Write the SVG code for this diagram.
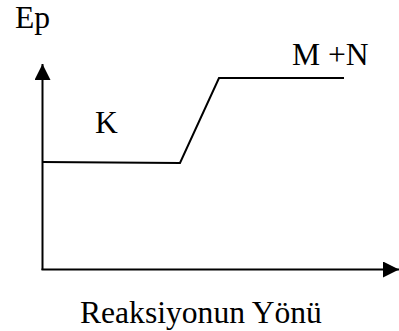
<svg xmlns="http://www.w3.org/2000/svg" width="399" height="331" viewBox="0 0 399 331">
<style>
text{font-family:"Liberation Serif","Times New Roman",serif;font-size:31.6px;fill:#000}
.ln{fill:none;stroke:#000;stroke-width:2}
</style>
<defs>
<marker id="ah" markerUnits="userSpaceOnUse" markerWidth="16" markerHeight="16" viewBox="0 0 16 16" refX="16" refY="8" orient="auto">
<path d="M0,0 L16,8 L0,16 Z" fill="#000"/>
</marker>
</defs>
<rect width="399" height="331" fill="#fff"/>
<g id="axes">
<line class="ln" x1="42.5" y1="270" x2="42.5" y2="64" marker-end="url(#ah)"/>
<line class="ln" x1="41.5" y1="269.5" x2="399" y2="269.5" marker-end="url(#ah)"/>
</g>
<g id="curve">
<polyline class="ln" points="42,162 180,163 219,78 344,78"/>
</g>
<g id="labels">
<text id="ep" x="15" y="28">Ep</text>
<text id="k" x="95" y="133">K</text>
<text id="mn" x="292" y="65">M +N</text>
<text id="xlabel" x="80" y="323">Reaksiyonun Yönü</text>
</g>
</svg>
